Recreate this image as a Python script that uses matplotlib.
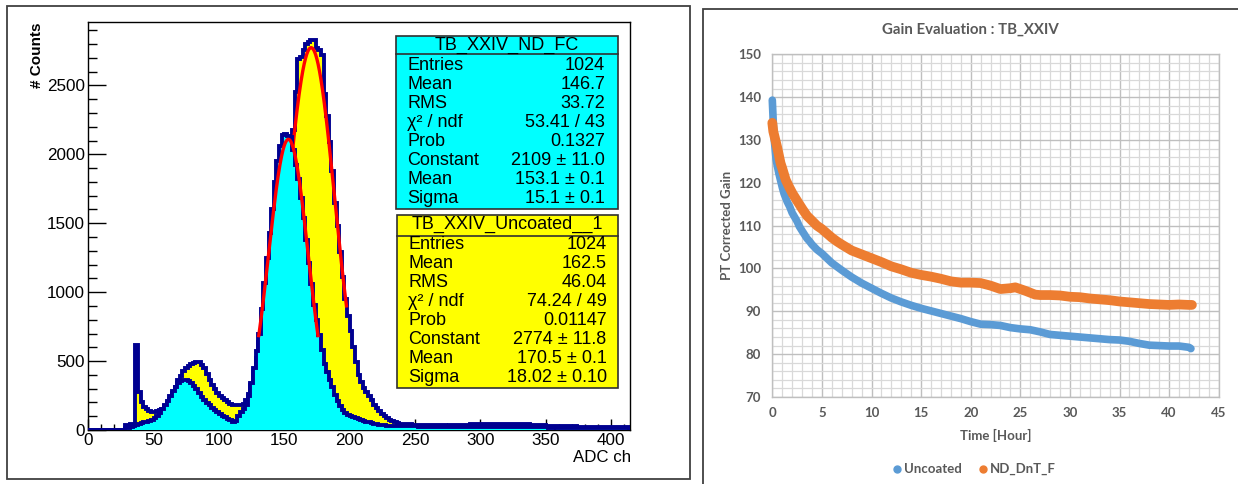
import matplotlib
matplotlib.use('Agg')
import matplotlib.pyplot as plt
import numpy as np
from matplotlib.patches import Rectangle
from matplotlib.lines import Line2D
from matplotlib.ticker import MultipleLocator

# ------------------------------------------------------------------ data
# Left: ROOT histograms (bin width 2 ADC ch, first bin edge at 28)
first_edge = 28
bin_width = 2
uncoated_counts = [
    35, 38, 40, 42,
    615,
    275, 205, 170, 150, 138, 133, 132, 136, 142,
    155, 172, 195, 225, 270, 310, 360, 395, 425, 450, 465, 478, 485, 492, 495,
    475, 448, 405, 365, 330, 295, 270, 248, 230, 215, 200, 192, 185, 182, 180, 184, 190, 215, 260, 330,
    420, 520, 640, 780, 920, 1080, 1230, 1390, 1540, 1690, 1830, 1950, 2030, 2080, 2110,
    2180, 2450, 2690, 2705, 2760, 2800, 2815, 2830, 2830, 2770, 2755, 2720, 2440, 2280, 2090, 1880, 1650, 1480, 1290, 1110, 950, 830,
    720, 600, 490, 400, 345, 305, 275, 245, 215, 185, 160, 140, 118, 100, 85, 70, 62, 55, 50, 47, 45, 42, 40, 40, 38, 38, 37, 36,
    36, 35, 35, 34, 36, 33, 34, 35, 33, 32, 34, 36, 35, 33, 34, 36, 38, 37, 40, 42, 44, 45,
    46, 44, 45, 43, 42, 44, 46, 45, 43, 44, 47, 45, 42, 40, 41, 43, 44, 42, 40, 38, 37, 36, 35, 34, 33,
    32, 31, 31, 30, 29, 29, 28, 28, 27, 27, 26, 26, 25, 25, 25, 24, 24, 24, 23, 23, 23, 22, 22, 22, 21, 21, 21, 20, 20, 20, 19, 19,
]
ndfc_counts = [
    12, 18, 22, 28,
    35,
    42, 50, 55, 60, 66, 75, 88, 105, 125,
    150, 180, 210, 250, 285, 315, 340, 352, 360, 363, 355, 340, 318, 295, 268,
    240, 215, 195, 178, 160, 142, 128, 118, 105, 92, 80, 70, 55, 62, 100, 130, 155, 185, 250, 340,
    450, 570, 700, 880, 1070, 1250, 1430, 1600, 1800, 1950, 2060, 2140, 2145, 2135, 2125,
    2030, 1920, 1820, 1680, 1540, 1380, 1210, 1060, 910, 800, 690, 580, 480, 420, 365, 310, 255, 210, 175, 148, 125, 110,
    100, 92, 85, 78, 72, 66, 60, 55, 50, 46, 42, 38, 36, 34, 32, 31, 30, 30, 29, 28, 28, 27, 27, 26, 26, 26, 25, 25,
    25, 25, 24, 24, 25, 24, 23, 24, 24, 23, 23, 24, 23, 23, 22, 23, 23, 22, 22, 23, 22, 22,
    22, 21, 22, 22, 21, 21, 22, 21, 21, 20, 21, 21, 20, 20, 21, 20, 20, 19, 20, 20, 19, 19, 20, 19, 19,
    19, 18, 18, 19, 18, 18, 17, 18, 17, 17, 17, 16, 17, 16, 16, 16, 15, 16, 15, 15, 15, 14, 15, 14, 14, 14, 13, 14, 13, 13, 13, 12,
]
# Gaussian fit results (Constant, Mean, Sigma) from the stat boxes
fit_ndfc = (2109.0, 153.1, 15.1)
fit_unc = (2774.0, 170.5, 18.02)

box_ndfc_title = "TB_XXIV_ND_FC"
box_ndfc_rows = [("Entries", "1024"), ("Mean", "146.7"), ("RMS", "33.72"),
                 ("χ² / ndf", "53.41 / 43"), ("Prob", "0.1327"),
                 ("Constant", "2109 ± 11.0"), ("Mean", "153.1 ± 0.1"), ("Sigma", "15.1 ± 0.1")]
box_unc_title = "TB_XXIV_Uncoated__1"
box_unc_rows = [("Entries", "1024"), ("Mean", "162.5"), ("RMS", "46.04"),
                ("χ² / ndf", "74.24 / 49"), ("Prob", "0.01147"),
                ("Constant", "2774 ± 11.8"), ("Mean", "170.5 ± 0.1"), ("Sigma", "18.02 ± 0.10")]

# Right: gain vs time
t_unc = [0, 0.1, 0.2, 0.38, 0.5, 0.66, 1.0, 1.18, 1.5, 1.76, 2.0, 2.5, 2.73, 3.0, 3.5, 3.77, 4.0,
         4.5, 5, 6, 6.53, 7, 8, 9, 10, 11, 12, 13, 14, 15, 16, 17, 18, 19, 20, 21, 22, 23, 24,
         25, 26, 27, 28, 29, 30, 31, 32, 33, 34, 35, 36, 37, 38, 39, 40, 41, 42, 42.2]
g_unc = [139.3, 134.0, 130.0, 125.5, 124.0, 122.2, 119.0, 117.5, 115.6, 114.4, 113.0, 111.0, 109.8,
         108.8, 107.0, 106.3, 105.6, 104.4, 103.5, 101.3, 100.4, 99.6, 98.0, 96.6, 95.4, 94.2,
         93.1, 92.2, 91.4, 90.7, 90.1, 89.5, 88.9, 88.3, 87.6, 87.0, 86.9, 86.7, 86.2, 85.9, 85.7,
         85.2, 84.6, 84.4, 84.2, 84.0, 83.8, 83.6, 83.4, 83.3, 83.0, 82.5, 82.1, 82.0, 81.9, 81.9,
         81.6, 81.3]
t_nd = [0, 0.1, 0.31, 0.5, 0.83, 1.0, 1.35, 1.7, 2.04, 2.5, 3.08, 3.5, 4.11, 4.5, 5, 5.5, 6, 6.53,
        7, 8, 9, 10, 11, 12, 13, 14, 15, 16, 17, 18, 19, 20, 21, 22, 23, 24, 24.5, 25.5, 26.5, 27,
        28, 29, 30, 31, 32, 33, 34, 35, 36, 37, 38, 39, 40, 41, 42, 42.3]
g_nd = [134.0, 132.0, 130.0, 128.2, 124.6, 123.4, 120.7, 119.0, 117.5, 115.8, 113.7, 112.3, 110.9,
        110.0, 109.2, 108.2, 107.2, 106.3, 105.6, 104.2, 103.3, 102.4, 101.5, 100.5, 99.8, 99.0,
        98.5, 98.1, 97.6, 97.0, 96.7, 96.7, 96.6, 96.0, 95.2, 95.4, 95.6, 94.8, 93.9, 93.8, 93.8,
        93.7, 93.4, 93.3, 93.0, 92.8, 92.6, 92.3, 92.1, 91.9, 91.7, 91.6, 91.5, 91.6, 91.5, 91.5]
series_names = ["Uncoated", "ND_DnT_F"]

# ------------------------------------------------------------------ figure
W, H = 1238, 484
fig = plt.figure(figsize=(W / 100, H / 100), dpi=100)
fig.patch.set_facecolor('white')


def fx(x):
    return x / W


def fy(y):
    return 1 - y / H


ROOT_FONT = 'Liberation Sans'
XL_FONT = 'Lato'
NAVY = '#000090'

# ---------------- left panel
fig.add_artist(Rectangle((fx(7), fy(479)), (690 - 7) / W, (479 - 6) / H, fill=False,
                         edgecolor='#404040', lw=1.3, transform=fig.transFigure))

ax1 = fig.add_axes([fx(88.3), fy(430), (630 - 88.3) / W, (430 - 22.3) / H])
edges = np.concatenate([[0], first_edge + bin_width * np.arange(len(uncoated_counts) + 1)])
unc = np.concatenate([[0], uncoated_counts])
nd = np.concatenate([[0], ndfc_counts])

ax1.stairs(unc, edges, fill=True, color='#FFFF00', zorder=1)
ax1.stairs(unc, edges, color=NAVY, lw=2.8, zorder=2)
c, m, s = fit_unc
xf = np.linspace(m - 1.5 * s, m + 1.5 * s, 300)
ax1.plot(xf, c * np.exp(-0.5 * ((xf - m) / s) ** 2), color='#FF0000', lw=2.4, zorder=2.5)
ax1.stairs(nd, edges, fill=True, color='#00FFFF', zorder=3)
ax1.stairs(nd, edges, color=NAVY, lw=2.8, zorder=4)
c, m, s = fit_ndfc
xf = np.linspace(m - 1.5 * s, m + 1.5 * s, 300)
ax1.plot(xf, c * np.exp(-0.5 * ((xf - m) / s) ** 2), color='#FF0000', lw=2.4, zorder=5)

ax1.set_xlim(0, 414.5)
ax1.set_ylim(0, 2958)
ax1.xaxis.set_major_locator(MultipleLocator(50))
ax1.xaxis.set_minor_locator(MultipleLocator(10))
ax1.yaxis.set_major_locator(MultipleLocator(500))
ax1.yaxis.set_minor_locator(MultipleLocator(100))
ax1.tick_params(axis='both', which='both', direction='in', colors='black', width=1)
ax1.tick_params(axis='y', which='major', length=13, pad=2.4)
ax1.tick_params(axis='y', which='minor', length=6.5)
ax1.tick_params(axis='x', which='major', length=8, pad=2.5)
ax1.tick_params(axis='x', which='minor', length=4)
for lab in ax1.get_xticklabels() + ax1.get_yticklabels():
    lab.set_fontfamily(ROOT_FONT)
    lab.set_fontsize(12.3)
for sp in ax1.spines.values():
    sp.set_color('black')
    sp.set_linewidth(1)

fig.text(fx(37), fy(22), '# Counts', rotation=90, ha='center', va='top',
         fontfamily=ROOT_FONT, fontsize=11, fontweight='bold')
fig.text(fx(630.7), fy(458), 'ADC ch', ha='right', va='center',
         fontfamily=ROOT_FONT, fontsize=12.2)


def stat_box(x0, y0, x1, y1, ydiv, ytitle, yrow0, lx, rx, title, rows, face):
    fig.add_artist(Rectangle((fx(x0), fy(y1)), (x1 - x0) / W, (y1 - y0) / H,
                             facecolor=face, edgecolor='#303030', lw=1.2,
                             transform=fig.transFigure))
    fig.add_artist(Line2D([fx(x0), fx(x1)], [fy(ydiv), fy(ydiv)], color='#303030',
                          lw=1.2, transform=fig.transFigure))
    fig.text(fx((x0 + x1) / 2), fy(ytitle), title, ha='center', va='center',
             fontfamily=ROOT_FONT, fontsize=13)
    for i, (k, v) in enumerate(rows):
        yy = yrow0 + i * 19.1
        fig.text(fx(lx), fy(yy), k, ha='left', va='center', fontfamily=ROOT_FONT, fontsize=13)
        fig.text(fx(rx), fy(yy), v, ha='right', va='center', fontfamily=ROOT_FONT, fontsize=13)


stat_box(396, 36, 617.7, 209, 54, 45, 65, 407.3, 605, box_ndfc_title, box_ndfc_rows, '#00FFFF')
stat_box(397.3, 215, 618.3, 388.3, 235.7, 224.3, 244.3, 408.3, 606.7, box_unc_title, box_unc_rows, '#FFFF00')

# ---------------- right panel
GRAY = '#595959'
BLUE = '#5B9BD5'
ORANGE = '#ED7D31'
fig.add_artist(Rectangle((fx(703), fy(495)), (1250 - 703) / W, (495 - 9) / H, fill=False,
                         edgecolor='#404040', lw=1.3, transform=fig.transFigure))

ax2 = fig.add_axes([fx(772.3), fy(397), (1218.7 - 772.3) / W, (397 - 54.3) / H])
ax2.set_xlim(0, 45)
ax2.set_ylim(70, 150)
ax2.xaxis.set_major_locator(MultipleLocator(5))
ax2.xaxis.set_minor_locator(MultipleLocator(1))
ax2.yaxis.set_major_locator(MultipleLocator(10))
ax2.yaxis.set_minor_locator(MultipleLocator(2))
ax2.grid(which='minor', color='#D9D9D9', lw=0.9, zorder=0)
ax2.grid(which='major', color='#BFBFBF', lw=1.0, zorder=0)
ax2.set_axisbelow(True)
ax2.tick_params(which='both', length=0)
ax2.tick_params(axis='y', pad=8)
ax2.tick_params(axis='x', pad=7)
for lab in ax2.get_xticklabels() + ax2.get_yticklabels():
    lab.set_fontfamily(XL_FONT)
    lab.set_fontweight('bold')
    lab.set_fontsize(9.5)
    lab.set_color(GRAY)
for sp in ax2.spines.values():
    sp.set_color('#BFBFBF')
    sp.set_linewidth(1)

ax2.plot(t_unc, g_unc, color=BLUE, lw=5.5, solid_capstyle='round', solid_joinstyle='round',
         clip_on=False, zorder=3)
ax2.plot(t_nd, g_nd, color=ORANGE, lw=7, solid_capstyle='round', solid_joinstyle='round',
         clip_on=False, zorder=4)

fig.text(fx(970.8), fy(29.3), 'Gain Evaluation : TB_XXIV', ha='center', va='center',
         fontfamily=XL_FONT, fontweight='bold', fontsize=10.8, color=GRAY)
fig.text(fx(995.8), fy(435), 'Time [Hour]', ha='center', va='center',
         fontfamily=XL_FONT, fontweight='bold', fontsize=9.5, color=GRAY)
fig.text(fx(726.8), fy(225), 'PT Corrected Gain', ha='center', va='center', rotation=90,
         fontfamily=XL_FONT, fontweight='bold', fontsize=9.5, color=GRAY)

handles = [Line2D([], [], ls='', marker='o', ms=5, color=BLUE),
           Line2D([], [], ls='', marker='o', ms=5, color=ORANGE)]
leg = fig.legend(handles, series_names, loc='center', bbox_to_anchor=(fx(974.5), fy(469.3)),
                 ncol=2, frameon=False, handlelength=0.6, handletextpad=0.25,
                 columnspacing=1.3, borderpad=0, prop={'family': XL_FONT, 'weight': 'bold',
                                                        'size': 9.5})
for t in leg.get_texts():
    t.set_color(GRAY)

fig.savefig('out.png', dpi=100)
